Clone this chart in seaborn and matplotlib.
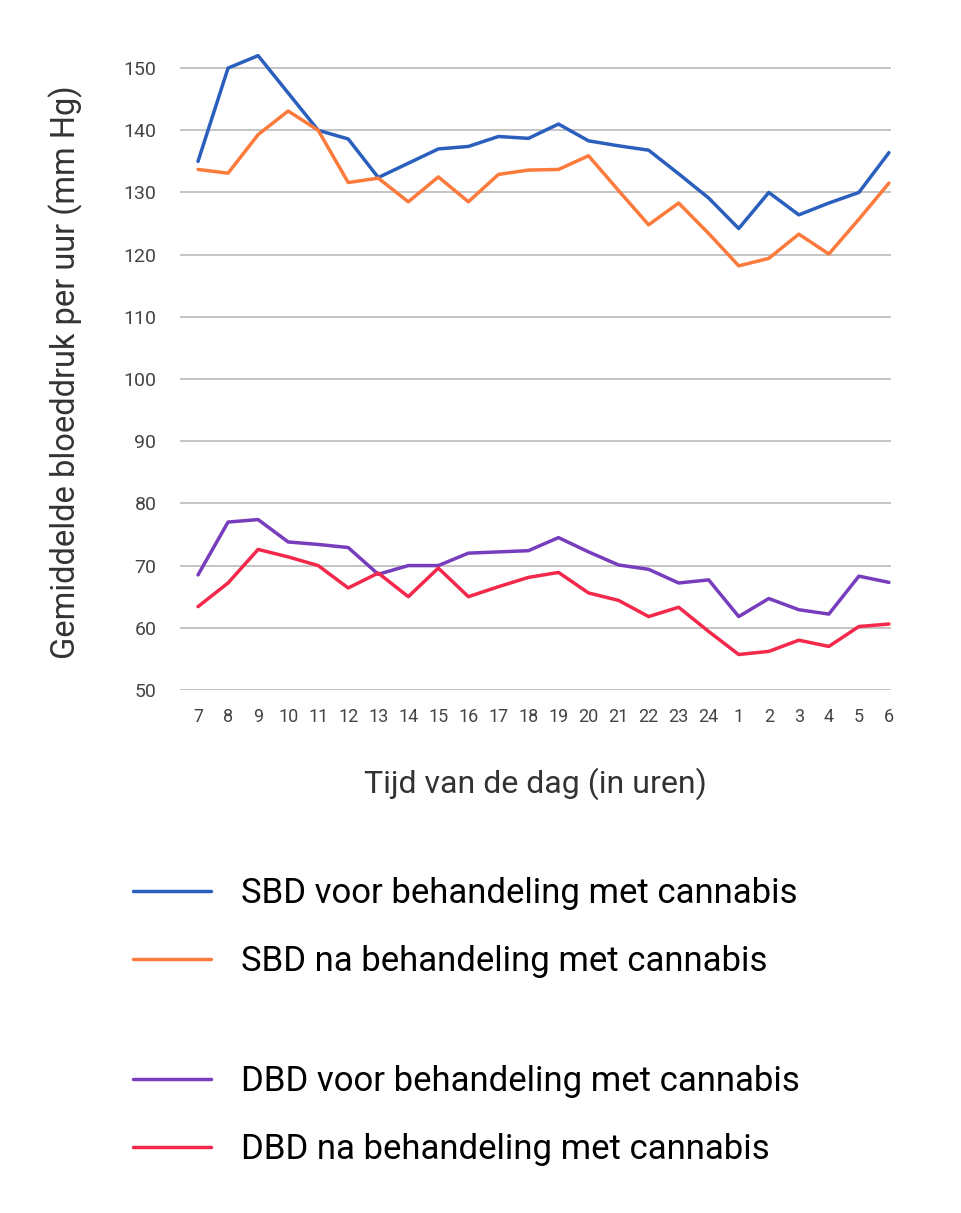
import numpy as np
import pandas as pd
import matplotlib
matplotlib.use("Agg")
import matplotlib.pyplot as plt
import seaborn as sns

# uren van de dag (7 uur 's ochtends tot 6 uur de volgende ochtend)
hours = ["7", "8", "9", "10", "11", "12", "13", "14", "15", "16", "17", "18",
         "19", "20", "21", "22", "23", "24", "1", "2", "3", "4", "5", "6"]

sbd_voor = [135.0, 150.0, 152.0, 146.0, 140.0, 138.6, 132.4, 134.7, 137.0, 137.4, 139.0, 138.7,
            141.0, 138.3, 137.5, 136.8, 133.0, 129.1, 124.2, 130.0, 126.4, 128.3, 130.0, 136.4]
sbd_na = [133.7, 133.1, 139.3, 143.1, 140.0, 131.6, 132.3, 128.5, 132.5, 128.5, 132.9, 133.6,
          133.7, 135.9, 130.3, 124.8, 128.3, 123.4, 118.2, 119.4, 123.3, 120.1, 125.7, 131.5]
dbd_voor = [68.5, 77.0, 77.4, 73.8, 73.4, 72.9, 68.6, 70.0, 70.0, 72.0, 72.2, 72.4,
            74.5, 72.2, 70.1, 69.4, 67.2, 67.7, 61.8, 64.7, 62.9, 62.2, 68.3, 67.3]
dbd_na = [63.4, 67.2, 72.6, 71.4, 70.0, 66.4, 68.8, 65.0, 69.6, 65.0, 66.6, 68.1,
          68.9, 65.6, 64.4, 61.8, 63.3, 59.4, 55.7, 56.2, 58.0, 57.0, 60.2, 60.6]

labels = ["SBD voor behandeling met cannabis", "SBD na behandeling met cannabis",
          "DBD voor behandeling met cannabis", "DBD na behandeling met cannabis"]
colors = ["#2a5fbd", "#fd7a3d", "#773dbd", "#f4284a"]

df = pd.concat([
    pd.DataFrame({"uur": hours, "bloeddruk": vals, "reeks": lab})
    for vals, lab in zip([sbd_voor, sbd_na, dbd_voor, dbd_na], labels)
], ignore_index=True)

sns.set_style("white")
plt.rcParams["font.family"] = ["Roboto", "DejaVu Sans"]

fig = plt.figure(figsize=(9.61, 12.13), dpi=100)
ax = fig.add_axes([0.1873, 0.4312, 0.7399, 0.5383])

sns.lineplot(data=df, x="uur", y="bloeddruk", hue="reeks", palette=colors,
             sort=False, linewidth=2.5, ax=ax, legend=False)

ax.set_xlim(-0.6, 23.07)
ax.set_ylim(50, 155)
ax.set_yticks(np.arange(50, 151, 10))
ax.grid(axis="y", color="#b4b4b4", linewidth=1.1)
ax.grid(axis="x", visible=False)
for s in ax.spines.values():
    s.set_visible(False)
ax.tick_params(axis="y", length=0, pad=17, labelsize=14, labelcolor="#444444")
ax.tick_params(axis="x", length=0, pad=13, labelsize=13, labelcolor="#444444")

ax.set_ylabel("Gemiddelde bloeddruk per uur (mm Hg)", fontsize=23.5, color="#333333")
ax.yaxis.set_label_coords(-0.137, 0.487)
ax.set_xlabel("Tijd van de dag (in uren)", fontsize=23, color="#333333")
ax.xaxis.set_label_coords(0.5, -0.118)

lines = ax.get_lines()
leg_kw = dict(frameon=False, loc="upper left", fontsize=25, handlelength=2.25,
              handletextpad=0.85, labelspacing=1.0, borderpad=0, borderaxespad=0,
              labelcolor="black")
leg1 = fig.legend(lines[:2], labels[:2], bbox_to_anchor=(133 / 961, 1 - 877 / 1213), **leg_kw)
leg2 = fig.legend(lines[2:4], labels[2:4], bbox_to_anchor=(133 / 961, 1 - 1065 / 1213), **leg_kw)
for leg in (leg1, leg2):
    for line in leg.get_lines():
        line.set_linewidth(2.5)

fig.savefig("out.png", dpi=100)
